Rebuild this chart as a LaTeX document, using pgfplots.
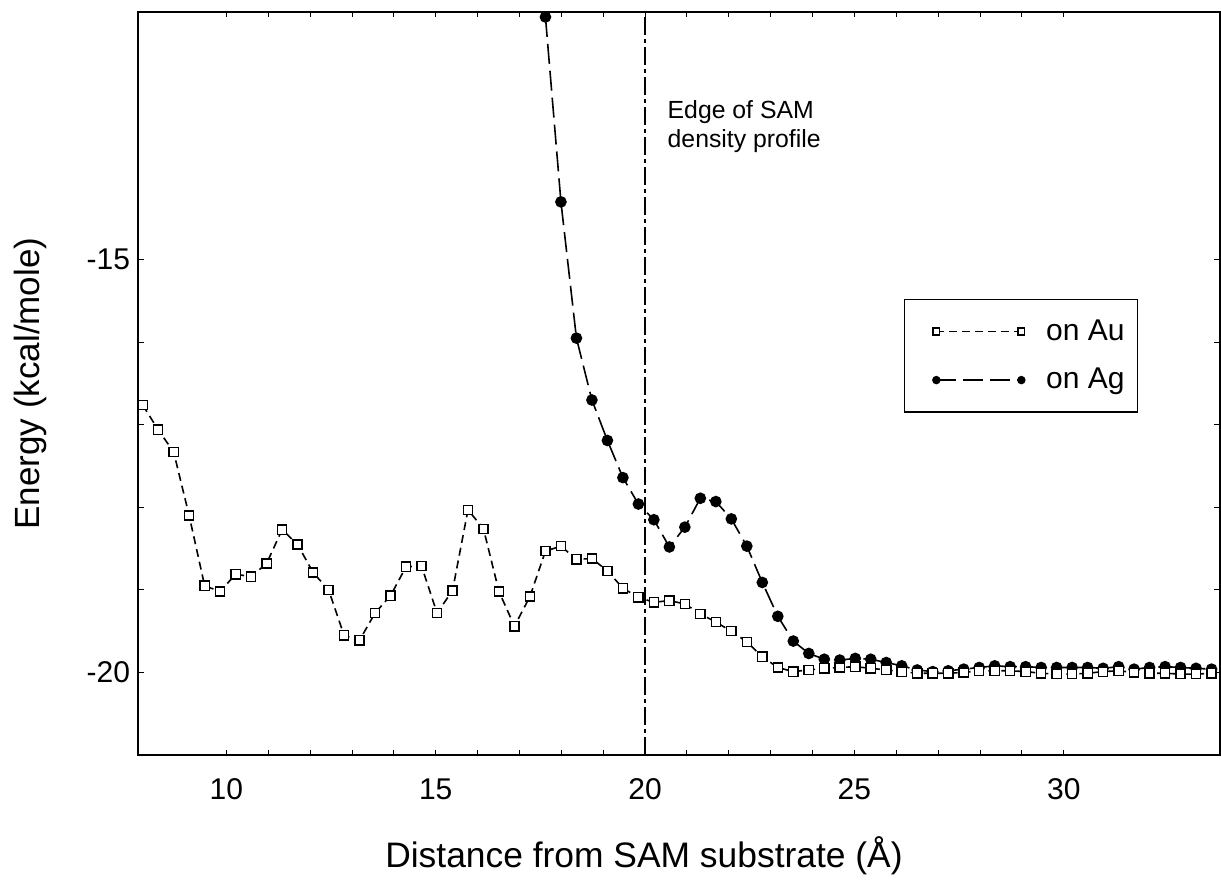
\documentclass[border=0pt]{standalone}
\usepackage{pgfplots}
\pgfplotsset{compat=1.18}
\usepackage{pgfplotstable}
\usepackage{fontspec}
\setmainfont{Liberation Sans}

\pgfplotstableread{
x y
8.00 -16.76
8.37 -17.06
8.74 -17.33
9.11 -18.10
9.48 -18.95
9.85 -19.02
10.22 -18.81
10.59 -18.84
10.96 -18.68
11.33 -18.27
11.70 -18.45
12.07 -18.79
12.44 -19.00
12.81 -19.55
13.18 -19.61
13.55 -19.28
13.92 -19.07
14.29 -18.72
14.66 -18.71
15.03 -19.28
15.40 -19.01
15.77 -18.03
16.14 -18.26
16.51 -19.02
16.88 -19.44
17.25 -19.08
17.62 -18.53
17.99 -18.47
18.36 -18.63
18.73 -18.62
19.10 -18.77
19.47 -18.98
19.84 -19.09
20.21 -19.15
20.58 -19.13
20.95 -19.17
21.32 -19.29
21.69 -19.39
22.06 -19.50
22.43 -19.63
22.80 -19.81
23.17 -19.94
23.54 -19.99
23.91 -19.97
24.28 -19.95
24.65 -19.94
25.02 -19.93
25.39 -19.95
25.76 -19.97
26.13 -19.99
26.50 -20.01
26.87 -20.01
27.24 -20.01
27.61 -20.00
27.98 -19.98
28.35 -19.98
28.72 -19.98
29.09 -19.99
29.46 -20.01
29.83 -20.02
30.20 -20.02
30.57 -20.01
30.94 -19.99
31.31 -19.98
31.68 -20.00
32.05 -20.01
32.42 -20.01
32.79 -20.02
33.16 -20.02
33.53 -20.01
}\auData

\pgfplotstableread{
x y
17.62 -12.06
17.99 -14.30
18.36 -15.95
18.73 -16.70
19.10 -17.19
19.47 -17.64
19.84 -17.96
20.21 -18.15
20.58 -18.48
20.95 -18.24
21.32 -17.89
21.69 -17.93
22.06 -18.14
22.43 -18.47
22.80 -18.91
23.17 -19.32
23.54 -19.62
23.91 -19.77
24.28 -19.84
24.65 -19.85
25.02 -19.83
25.39 -19.84
25.76 -19.88
26.13 -19.92
26.50 -19.97
26.87 -19.99
27.24 -19.98
27.61 -19.96
27.98 -19.94
28.35 -19.92
28.72 -19.93
29.09 -19.93
29.46 -19.94
29.83 -19.94
30.20 -19.94
30.57 -19.94
30.94 -19.95
31.31 -19.93
31.68 -19.96
32.05 -19.94
32.42 -19.93
32.79 -19.94
33.16 -19.95
33.53 -19.96
}\agData

\begin{document}
\begin{tikzpicture}
\begin{axis}[
  at={(0,0)}, anchor=south west,
  scale only axis, width=540.5pt, height=371.5pt,
  xmin=7.9, xmax=33.72, ymin=-21, ymax=-12,
  xtick={10,15,20,25,30}, xticklabels={10,15,20,25,30},
  ytick={-20,-15}, yticklabels={-20,-15},
  minor x tick num=4, minor y tick num=4,
  tick align=inside, major tick length=2.6pt, minor tick length=2.6pt,
  every tick/.style={black, line width=0.5pt},
  axis line style={line width=1pt},
  tick label style={font=\fontsize{15}{18}\selectfont},
  xticklabel style={anchor=north, inner sep=0pt, yshift=-11.5pt},
  yticklabel style={anchor=east, inner sep=0pt, xshift=-4pt},
  xlabel={Distance from SAM substrate (Å)},
  ylabel={Energy (kcal/mole)},
  every axis x label/.style={at={(axis description cs:0.4676,-0.1353)}, anchor=center, font=\fontsize{17.7}{20}\selectfont},
  every axis y label/.style={at={(axis description cs:-0.1004,0.5)}, anchor=center, rotate=90, font=\fontsize{17.5}{20}\selectfont},
  legend style={at={(axis description cs:0.7081,0.6137)}, anchor=north west, draw=black, line width=0.6pt,
    font=\fontsize{15}{18}\selectfont, inner xsep=6.5pt, inner ysep=10pt, row sep=12.5pt, column sep=9.5pt,
    nodes={inner sep=0pt}},
  legend cell align=left,
  reverse legend,
  legend image code/.code={%
    \path (0pt,0pt) (54pt,0pt);
    \draw[#1, mark size=1.7pt] plot coordinates {(9pt,0pt) (51.5pt,0pt)};},
]
\addplot[black, line width=0.7pt, dash pattern=on 9pt off 2pt on 2pt off 2pt, forget plot] coordinates {(20,-21) (20,-12)};
\addplot[black, line width=0.8pt, dash pattern=on 10pt off 3.5pt, mark=*, mark size=2.5pt, mark options={solid, fill=black}] table[x=x, y=y] {\agData};
\addlegendentry{on Ag}
\addplot[black, line width=0.8pt, dash pattern=on 4pt off 2.5pt, mark=square*, mark size=2.3pt, mark options={solid, fill=white, line width=0.7pt}] table[x=x, y=y] {\auData};
\addlegendentry{on Au}
\node[anchor=north west, inner sep=0pt, align=left, font=\fontsize{12.4}{14.5}\selectfont] at (axis cs:20.53,-13.066) {Edge of SAM\\density profile};
\end{axis}
\pgfresetboundingbox
\path[use as bounding box] (-69.25pt,-64pt) rectangle (541.25pt,377.5pt);
\end{tikzpicture}
\end{document}
